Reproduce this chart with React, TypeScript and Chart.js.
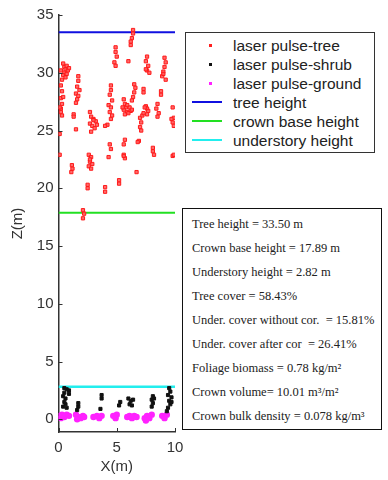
import React, { useEffect, useRef } from "react";
import { Chart, registerables } from "chart.js";
Chart.register(...registerables);

// laser pulse - tree (red)
const treeX = [
  0.4, 0.5, 0.6, 0.7, 0.5, 0.8, 0.9, 0.4, 0.6, 0.3, 0.7, 0.2,
  0.2, 0.3, 0.2, 0.4, 0.3, 0.2, 0.2, 0.3, 0.1,
  0.1, 0.1,
  1.7, 1.7, 1.6, 1.8, 1.5, 1.7, 1.6, 1.5, 1.3, 1.3, 1.5,
  1.15, 1.2, 1.1,
  2.7, 2.8, 3.0, 3.2, 2.7, 2.9, 3.1, 2.8, 3.0, 3.3,
  2.6, 2.8, 2.7, 2.9, 2.6, 2.8, 2.7,
  2.5, 2.5,
  2.1, 2.2, 2.1,
  4.0, 4.0,
  4.5, 4.5, 4.4, 4.6, 4.3, 4.5, 4.4, 4.6, 4.5, 4.2, 4.0,
  4.4, 4.5, 4.3,
  4.9, 4.9, 5.0, 4.8, 4.9,
  5.2, 5.2,
  5.6, 5.7, 5.8, 5.6, 5.9, 5.7, 5.5,
  5.7, 5.6, 5.6, 5.7, 5.6,
  6.0,
  6.4, 6.4, 6.3, 6.2, 6.2,
  6.5, 6.6, 6.5, 6.4, 6.3,
  6.1, 6.2, 6.0, 6.3, 5.9,
  6.7, 6.9, 6.8,
  7.0, 7.1, 7.0, 7.1, 7.2, 7.3,
  7.3, 7.3,
  7.5, 7.6, 7.7, 7.4, 7.6,
  7.6, 7.5, 7.7, 7.6, 7.8, 7.5,
  8.1, 8.1, 8.2,
  8.5, 8.4, 8.6, 8.5,
  9.1, 9.2, 9.1, 9.0, 8.9, 9.2, 9.0,
  8.8, 8.8,
  9.8, 9.9, 9.8, 9.9, 9.7,
  9.8, 9.9,
];
const treeZ = [
  30.8, 30.5, 30.3, 30.6, 30.0, 30.2, 30.4, 29.8, 29.6, 29.4, 29.9, 30.2,
  28.9, 28.4, 27.8, 27.9, 27.3, 26.9, 26.6, 26.3, 27.0,
  24.7, 22.9,
  29.7, 29.3, 28.8, 28.5, 28.2, 28.0, 27.7, 27.4, 26.4, 26.2, 25.1,
  22.0, 21.7, 21.4,
  26.6, 26.2, 26.0, 25.8, 25.6, 25.4, 25.2, 24.9, 25.9, 25.5,
  22.9, 22.7, 22.3, 22.1, 21.9, 21.7, 22.5,
  20.3, 20.0,
  18.1, 17.8, 17.4,
  20.1, 19.7,
  28.9, 28.5, 28.1, 27.6, 27.2, 27.0, 26.6, 26.3, 26.0, 25.5, 25.4,
  23.8, 23.4, 22.7,
  32.2, 31.8, 31.4, 30.9, 30.6,
  20.7, 20.4,
  27.7, 27.3, 27.0, 26.8, 26.6, 26.4, 27.0,
  24.2, 23.8, 22.9, 22.6, 22.8,
  31.0,
  33.7, 33.4, 33.0, 32.7, 32.4,
  29.0, 28.7, 28.3, 27.9, 27.6,
  27.0, 26.7, 26.5, 26.8, 27.2,
  21.4, 24.1, 24.0,
  26.1, 25.7, 25.3, 25.0, 26.3, 26.5,
  28.6, 28.3,
  27.1, 26.9, 26.7, 27.0, 26.4,
  31.4, 31.0, 30.6, 30.2, 30.0, 30.3,
  23.5, 23.2, 22.9,
  27.3, 26.9, 26.5, 26.2,
  31.3, 30.9, 30.5, 30.1, 29.7, 29.4, 29.9,
  28.4, 28.1,
  27.0, 26.1, 25.7, 25.4, 26.0,
  22.8, 22.9,
];

// laser pulse - shrub (black)
const shrubX = [
  0.5, 0.7, 0.9, 0.5, 0.4, 0.6, 0.5, 0.6, 0.4, 0.7, 0.9,
  1.7, 1.7, 1.6,
  3.7, 3.7, 3.6,
  5.3, 5.2,
  6.0, 6.2, 6.4, 6.1, 6.3,
  8.1, 8.0, 8.1, 8.0, 8.2,
  9.5, 9.6, 9.4, 9.7, 9.5, 9.6, 9.4, 9.3, 9.7,
];
const shrubZ = [
  2.7, 2.6, 2.5, 2.3, 2.0, 1.8, 1.5, 1.3, 1.1, 1.0, 2.2,
  1.4, 1.1, 0.8,
  2.1, 1.8, 0.9,
  1.5, 1.2,
  1.8, 1.6, 1.7, 1.3, 1.2,
  2.0, 1.7, 1.4, 1.1, 1.8,
  2.7, 2.4, 2.1, 1.9, 1.6, 1.3, 1.0, 0.7, 1.5,
];

// laser pulse - ground (magenta)
const groundX = [
  0.1, 0.3, 0.5, 0.7, 0.9, 0.2,
  1.5, 1.7, 1.9, 2.1, 1.6, 2.2,
  3.0, 3.3, 3.5, 3.7,
  4.7, 4.9, 5.0,
  5.9, 6.1, 6.3, 6.5, 6.7,
  7.4, 7.6, 7.8, 8.0, 7.5,
  8.9, 9.1, 9.3,
];
const groundZ = [
  0.3, 0.4, 0.2, 0.4, 0.3, 0.1,
  0.4, 0.2, 0.1, 0.3, 0.0, 0.2,
  0.2, 0.3, 0.1, 0.3,
  0.3, 0.1, 0.4,
  0.2, 0.3, 0.1, 0.3, 0.2,
  0.1, 0.3, 0.1, 0.4, -0.1,
  0.3, 0.1, 0.4,
];

const lineX = [0, 10];
const treeHeight = 33.5;
const crownBaseHeight = 17.89;
const understoryHeight = 2.82;

const xTicks = [0, 5, 10];
const yTicks = [0, 5, 10, 15, 20, 25, 30, 35];

const legendLabels = [
  "laser pulse-tree",
  "laser pulse-shrub",
  "laser pulse-ground",
  "tree height",
  "crown base height",
  "understory height",
];
const legendColors = ["#ff2020", "#111111", "#ff22ff", "#1010e0", "#22e022", "#22eeee"];
const legendKinds = ["point", "point", "point", "line", "line", "line"];

const infoLines = [
  "Tree height = 33.50 m",
  "Crown base height = 17.89 m",
  "Understory height = 2.82 m",
  "Tree cover = 58.43%",
  "Under. cover without cor.  = 15.81%",
  "Under. cover after cor  = 26.41%",
  "Foliage biomass = 0.78 kg/m²",
  "Crown volume= 10.01 m³/m²",
  "Crown bulk density = 0.078 kg/m³",
];

const toPts = (xs: number[], ys: number[]) => xs.map((x, i) => ({ x, y: ys[i] }));
const hLine = (h: number) => lineX.map((x) => ({ x, y: h }));

const inwardTicks = {
  id: "inwardTicks",
  afterDraw(chart: any) {
    const { ctx, chartArea, scales } = chart;
    ctx.save();
    ctx.strokeStyle = "#333";
    ctx.lineWidth = 1;
    yTicks.forEach((v) => {
      const y = Math.round(scales.y.getPixelForValue(v)) + 0.5;
      ctx.beginPath();
      ctx.moveTo(chartArea.left, y);
      ctx.lineTo(chartArea.left + 4, y);
      ctx.stroke();
    });
    xTicks.forEach((v) => {
      const x = Math.round(scales.x.getPixelForValue(v)) + 0.5;
      ctx.beginPath();
      ctx.moveTo(x, chartArea.bottom);
      ctx.lineTo(x, chartArea.bottom - 4);
      ctx.stroke();
    });
    ctx.restore();
  },
};

export default function App() {
  const ref = useRef<HTMLCanvasElement | null>(null);
  useEffect(() => {
    if (!ref.current) return;
    const font = { family: "'Liberation Sans', Arial, sans-serif", size: 15 };
    const chart = new Chart(ref.current, {
      type: "scatter",
      data: {
        datasets: [
          {
            label: legendLabels[0],
            data: toPts(treeX, treeZ),
            pointStyle: "rect",
            pointRadius: 2.3,
            borderWidth: 1,
            borderColor: "#ff1a1a",
            backgroundColor: "rgba(255,90,90,0.9)",
          },
          {
            label: legendLabels[1],
            data: toPts(shrubX, shrubZ),
            pointStyle: "rect",
            pointRadius: 2.2,
            borderWidth: 1,
            borderColor: "#111",
            backgroundColor: "#111",
          },
          {
            label: legendLabels[2],
            data: toPts(groundX, groundZ),
            pointStyle: "circle",
            pointRadius: 3.2,
            borderWidth: 0,
            backgroundColor: "#ff22ff",
          },
          {
            label: legendLabels[3],
            data: hLine(treeHeight),
            showLine: true,
            pointRadius: 0,
            borderWidth: 2,
            borderColor: legendColors[3],
          },
          {
            label: legendLabels[4],
            data: hLine(crownBaseHeight),
            showLine: true,
            pointRadius: 0,
            borderWidth: 2,
            borderColor: legendColors[4],
          },
          {
            label: legendLabels[5],
            data: hLine(understoryHeight),
            showLine: true,
            pointRadius: 0,
            borderWidth: 2.5,
            borderColor: legendColors[5],
          },
        ],
      },
      options: {
        animation: false,
        responsive: false,
        devicePixelRatio: 1,
        layout: { padding: { left: 0, top: 15, right: 213, bottom: 0 } },
        plugins: { legend: { display: false }, tooltip: { enabled: false } },
        scales: {
          x: {
            type: "linear",
            min: 0,
            max: 10,
            afterBuildTicks: (s: any) => {
              s.ticks = xTicks.map((v) => ({ value: v }));
            },
            afterFit: (s: any) => {
              s.height = 48;
            },
            grid: { display: true, drawOnChartArea: false, drawTicks: false },
            border: { display: true, color: "#333", width: 1.5 },
            ticks: { font, color: "#333", padding: 7, maxRotation: 0 },
            title: {
              display: true,
              text: "X(m)",
              font,
              color: "#333",
              padding: { top: 0, bottom: 4 },
            },
          },
          y: {
            type: "linear",
            min: -1.1,
            max: 35,
            afterBuildTicks: (s: any) => {
              s.ticks = yTicks.map((v) => ({ value: v }));
            },
            afterFit: (s: any) => {
              s.width = 58.5;
            },
            grid: { display: true, drawOnChartArea: false, drawTicks: false },
            border: { display: true, color: "#333", width: 1.5 },
            ticks: { font, color: "#333", padding: 5 },
            title: {
              display: true,
              text: "Z(m)",
              font,
              color: "#333",
              padding: { top: 9, bottom: 0 },
            },
          },
        },
      },
      plugins: [inwardTicks],
    } as any);
    return () => chart.destroy();
  }, []);

  return (
    <div style={{ position: "absolute", left: 0, top: 0, width: 388, height: 480, background: "#fff" }}>
      <canvas ref={ref} width={388} height={480} style={{ display: "block" }} />
      <div
        style={{
          position: "absolute",
          left: 185,
          top: 32,
          width: 190,
          height: 121,
          boxSizing: "border-box",
          border: "1px solid #333",
          background: "#fff",
          paddingTop: 2.5,
          fontFamily: "'Liberation Sans', Arial, sans-serif",
          fontSize: 15.5,
          color: "#222",
        }}
      >
        {legendLabels.map((lab, i) => (
          <div key={lab} style={{ height: 19, position: "relative", lineHeight: "19px" }}>
            {legendKinds[i] === "line" ? (
              <div
                style={{
                  position: "absolute",
                  left: 6,
                  top: 8.5,
                  width: 30,
                  height: 2,
                  background: legendColors[i],
                }}
              />
            ) : (
              <div
                style={{
                  position: "absolute",
                  left: 23,
                  top: 8,
                  width: 3,
                  height: 3,
                  background: legendColors[i],
                }}
              />
            )}
            <span style={{ position: "absolute", left: 47, top: 0, whiteSpace: "nowrap" }}>{lab}</span>
          </div>
        ))}
      </div>
      <div
        style={{
          position: "absolute",
          left: 182,
          top: 208,
          width: 200,
          height: 222,
          boxSizing: "border-box",
          border: "1.5px solid #111",
          background: "#fff",
          paddingTop: 3,
          paddingLeft: 9,
          fontFamily: "'Liberation Serif', 'Times New Roman', serif",
          fontSize: 12.5,
          color: "#222",
        }}
      >
        {infoLines.map((t) => (
          <div key={t} style={{ height: 24, lineHeight: "24px", whiteSpace: "pre" }}>
            {t}
          </div>
        ))}
      </div>
    </div>
  );
}
